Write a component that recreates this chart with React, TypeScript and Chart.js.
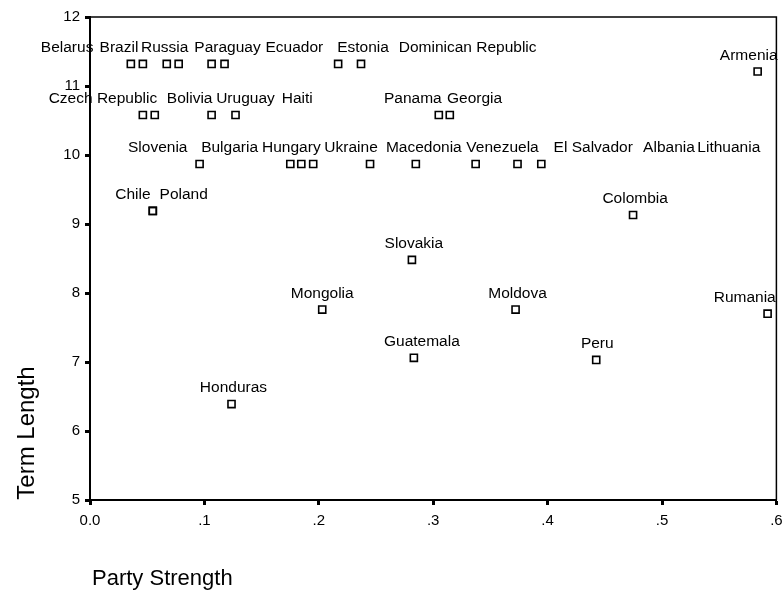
import React, { useEffect, useRef } from "react";
import { Chart, registerables } from "chart.js";

Chart.register(...registerables);

// Case labels (one unlabeled case in the top row)
const countries = [
  "Belarus", "Brazil", "Russia", "Paraguay", "Ecuador", "Estonia", "Dominican Republic", "", "Armenia",
  "Czech Republic", "Bolivia", "Uruguay", "Haiti", "Panama", "Georgia",
  "Slovenia", "Bulgaria", "Hungary", "Ukraine", "Macedonia", "Venezuela", "El Salvador", "Albania", "Lithuania",
  "Chile", "Poland", "Colombia", "Slovakia", "Mongolia", "Moldova", "Rumania", "Guatemala", "Peru", "Honduras",
];

const partyStrength = [
  0.0357, 0.0462, 0.0671, 0.0775, 0.1063, 0.1176, 0.2169, 0.2369, 0.5836,
  0.0462, 0.0566, 0.1063, 0.1272, 0.3049, 0.3145,
  0.0958, 0.1751, 0.1847, 0.1951, 0.2448, 0.2848, 0.3371, 0.3737, 0.3945,
  0.0549, 0.0549, 0.4747, 0.2814, 0.2030, 0.3720, 0.5923, 0.2831, 0.4425, 0.1237,
];

const termLength = [
  11.32, 11.32, 11.32, 11.32, 11.32, 11.32, 11.32, 11.32, 11.21,
  10.58, 10.58, 10.58, 10.58, 10.58, 10.58,
  9.87, 9.87, 9.87, 9.87, 9.87, 9.87, 9.87, 9.87, 9.87,
  9.19, 9.19, 9.13, 8.48, 7.76, 7.76, 7.70, 7.06, 7.03, 6.39,
];

// Where each case label is centred along the Party Strength axis
const labelAt = [
  -0.0200, 0.0253, 0.0653, 0.1202, 0.1786, 0.2387, 0.3301, 0.2369, 0.5758,
  0.0113, 0.0871, 0.1359, 0.1812, 0.2822, 0.3362,
  0.0592, 0.1220, 0.1760, 0.2282, 0.2918, 0.3606, 0.4399, 0.5061, 0.5584,
  0.0375, 0.0819, 0.4765, 0.2831, 0.2030, 0.3737, 0.5723, 0.2901, 0.4434, 0.1254,
];

const xTicks = [0, 0.1, 0.2, 0.3, 0.4, 0.5, 0.6];
const yTicks = [5, 6, 7, 8, 9, 10, 11, 12];
const xTitle = "Party Strength";
const yTitle = "Term Length";

const FONT = "'Liberation Sans', Arial, Helvetica, sans-serif";

export default function App() {
  const ref = useRef<HTMLCanvasElement | null>(null);

  useEffect(() => {
    const canvas = ref.current;
    if (!canvas) return;

    const points = partyStrength.map((x, i) => ({ x, y: termLength[i] }));

    const decor = {
      id: "decor",
      afterDatasetsDraw(chart: any) {
        const { ctx, chartArea, scales } = chart;
        const xs = scales.x;
        const ys = scales.y;
        ctx.save();
        // top & right frame
        ctx.strokeStyle = "#000";
        ctx.lineWidth = 1.5;
        ctx.beginPath();
        ctx.moveTo(chartArea.left, chartArea.top);
        ctx.lineTo(chartArea.right, chartArea.top);
        ctx.lineTo(chartArea.right, chartArea.bottom);
        ctx.stroke();
        // case labels
        ctx.fillStyle = "#000";
        ctx.font = `15.5px ${FONT}`;
        ctx.textAlign = "center";
        ctx.textBaseline = "alphabetic";
        countries.forEach((name, i) => {
          if (!name) return;
          const px = xs.getPixelForValue(labelAt[i]);
          const py = ys.getPixelForValue(termLength[i]) - 12;
          ctx.fillText(name, px, py);
        });
        // axis titles
        ctx.font = `22px ${FONT}`;
        ctx.textAlign = "left";
        ctx.fillText(xTitle, chartArea.left + 2, chartArea.bottom + 85);
        ctx.save();
        ctx.translate(chartArea.left - 56, chartArea.bottom - 67);
        ctx.rotate(-Math.PI / 2);
        ctx.font = `24px ${FONT}`;
        ctx.textAlign = "center";
        ctx.fillText(yTitle, 0, 0);
        ctx.restore();
        ctx.restore();
      },
    };

    const chart = new Chart(canvas, {
      type: "scatter",
      data: {
        datasets: [
          {
            data: points,
            pointStyle: "rect",
            pointRadius: 5,
            pointHoverRadius: 5,
            pointBorderWidth: 1.6,
            pointBorderColor: "#000",
            pointBackgroundColor: "rgba(255,255,255,0)",
            clip: false,
          } as any,
        ],
      },
      options: {
        animation: false,
        responsive: false,
        devicePixelRatio: 1,
        events: [],
        layout: { padding: { top: 17, right: 4, left: 0, bottom: 0 } },
        plugins: {
          legend: { display: false },
          tooltip: { enabled: false },
        },
        scales: {
          x: {
            type: "linear",
            min: 0,
            max: 0.6,
            afterBuildTicks: (s: any) => {
              s.ticks = xTicks.map((v) => ({ value: v }));
            },
            afterFit: (s: any) => {
              s.height = 94;
              s.paddingLeft = 0;
              s.paddingRight = 0;
            },
            ticks: {
              color: "#000",
              font: { family: FONT, size: 15 },
              padding: 7,
              maxRotation: 0,
              autoSkip: false,
              callback: (v: any) => {
                const n = Math.round(Number(v) * 10);
                return n === 0 ? "0.0" : "." + n;
              },
            },
            grid: {
              drawOnChartArea: false,
              drawTicks: true,
              tickLength: 5,
              tickWidth: 3,
              tickColor: "#000",
            },
            border: { display: true, color: "#000", width: 2 },
          },
          y: {
            type: "linear",
            min: 5,
            max: 12,
            afterBuildTicks: (s: any) => {
              s.ticks = yTicks.map((v) => ({ value: v }));
            },
            afterFit: (s: any) => {
              s.width = 90;
              s.paddingTop = 0;
              s.paddingBottom = 0;
            },
            ticks: {
              color: "#000",
              font: { family: FONT, size: 15 },
              padding: 5,
              autoSkip: false,
              callback: (v: any) => String(v),
            },
            grid: {
              drawOnChartArea: false,
              drawTicks: true,
              tickLength: 5,
              tickWidth: 3,
              tickColor: "#000",
            },
            border: { display: true, color: "#000", width: 2 },
          },
        },
      } as any,
      plugins: [decor],
    });

    return () => chart.destroy();
  }, []);

  return (
    <div style={{ position: "absolute", left: 0, top: 0, width: 783, height: 594, background: "#fff" }}>
      <canvas ref={ref} width={783} height={594} style={{ display: "block", width: 783, height: 594 }} />
    </div>
  );
}
